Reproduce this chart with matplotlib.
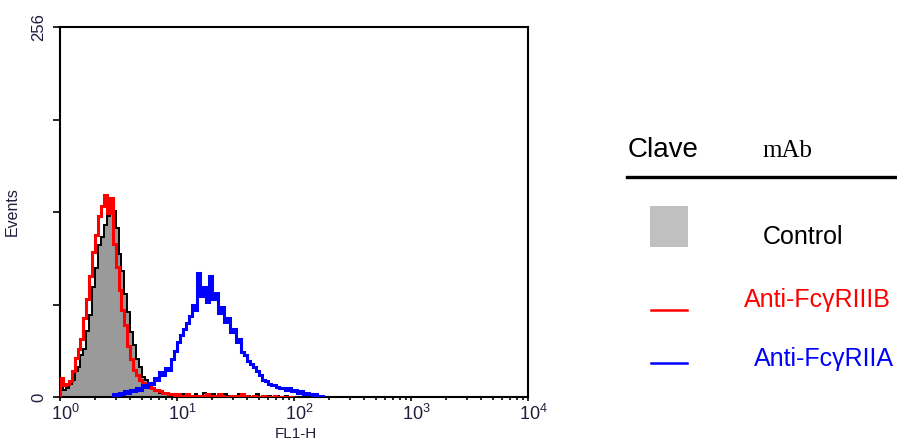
import numpy as np
import matplotlib
matplotlib.use("Agg")
import matplotlib.pyplot as plt
from matplotlib.patches import Rectangle
from matplotlib.lines import Line2D
import matplotlib.transforms as mtransforms

plt.rcParams['font.family'] = ['Liberation Sans', 'DejaVu Sans']
plt.rcParams['mathtext.fontset'] = 'custom'
plt.rcParams['mathtext.rm'] = 'Liberation Sans'

# histogramas FL1-H (canales en escala log, ancho de canal en decadas)
ancho = 0.025
inicio_control = 0.0
inicio_rojo = 0.0
inicio_azul = 0.45

control = [10, 5, 6, 9, 12, 18, 21, 29, 33, 46, 57, 76, 89, 105, 111, 119, 125, 136, 129, 117,
           99, 87, 71, 59, 45, 36, 26, 21, 14, 12, 8, 6, 5, 4, 3, 3, 2, 1, 2, 1,
           1, 0, 2, 1, 0, 1, 2, 0, 1, 3, 1, 0, 2, 1, 0, 1, 2, 1, 0, 1,
           0, 2, 1, 0, 1, 0, 1, 2, 0, 1, 0, 1, 0, 0, 1, 0, 0, 1, 0, 0]
anti_fcgriiib = [13, 8, 9, 11, 18, 27, 33, 40, 55, 68, 84, 100, 112, 125, 132, 140, 127, 138, 106, 90,
                 74, 60, 50, 35, 26, 19, 15, 12, 10, 8, 7, 6, 5, 5, 4, 3, 3, 2, 2, 1,
                 2, 1, 1, 2, 0, 1, 0, 1, 0, 1, 2, 1, 0, 1, 2, 1, 0, 0, 1, 0,
                 1, 0, 2, 1, 0, 0, 1, 0, 0, 1, 0, 0, 0, 1, 0, 0, 0, 0, 0, 0]
anti_fcgriia = [2, 1, 3, 2, 4, 3, 5, 4, 6, 5, 8, 7, 10, 9, 13, 12, 17, 15, 20, 19,
                26, 32, 38, 43, 47, 51, 56, 64, 60, 86, 70, 76, 66, 84, 68, 72, 58, 62, 52, 55,
                45, 47, 38, 40, 31, 29, 25, 23, 21, 18, 15, 12, 11, 9, 8, 8, 7, 6, 6, 5,
                6, 4, 5, 3, 4, 2, 3, 2, 1, 2, 1, 1]

xticks = [1, 10, 100, 1000, 10000]
xticklabels = ['$10^{0}$', '$10^{1}$', '$10^{2}$', '$10^{3}$', '$10^{4}$']


def bordes(inicio, n):
    return 10 ** (inicio + ancho * np.arange(n + 1))


W, H = 897, 443
fig = plt.figure(figsize=(W / 100, H / 100), dpi=100)
ax = fig.add_axes([60 / W, 1 - 397 / H, (528 - 60) / W, (397 - 27) / H])

texto = '#1e1e3c'

ax.stairs(control, bordes(inicio_control, len(control)), fill=True, color='#9a9a9a', lw=0, zorder=1)
ax.stairs(control, bordes(inicio_control, len(control)), color='black', lw=1.4, zorder=2)
ax.stairs(anti_fcgriiib, bordes(inicio_rojo, len(anti_fcgriiib)), color='#ff0000', lw=2.2, zorder=3)
ax.stairs(anti_fcgriia, bordes(inicio_azul, len(anti_fcgriia)), color='#0000ff', lw=2.2, zorder=4)

ax.set_xscale('log')
ax.set_xlim(1, 10000)
ax.set_ylim(0, 256)

ax.set_xticks(xticks)
ax.set_xticklabels(xticklabels, fontsize=13, color=texto)
ax.tick_params(axis='x', which='major', length=3, width=1.2, pad=2)
ax.tick_params(axis='x', which='minor', length=2.5, width=1.2)
desplaza = mtransforms.ScaledTranslation(5 / 100, 0, fig.dpi_scale_trans)
for lab in ax.get_xticklabels():
    lab.set_transform(lab.get_transform() + desplaza)

ax.set_yticks([0, 64, 128, 192, 256])
ax.set_yticklabels(['0', '', '', '', '256'], rotation=90, va='center', fontsize=12, color=texto)
ax.tick_params(axis='y', length=5, width=1.2, pad=5)

for s in ax.spines.values():
    s.set_linewidth(1.5)

ax.set_ylabel('Events', fontsize=11.5, color=texto)
ax.yaxis.set_label_coords(-0.085, 0.5)


def fx(x):
    return x / W


def fy(y):
    return 1 - y / H


fig.text(fx(296), fy(434), 'FL1-H', fontsize=11, color=texto, ha='center', va='center')

# leyenda
fig.text(fx(628), fy(157), 'Clave', fontsize=20, va='baseline', ha='left')
fig.text(fx(762), fy(157), 'mAb', fontsize=18, va='baseline', ha='left', family='Liberation Serif')
fig.add_artist(Line2D([fx(627), fx(897)], [fy(177), fy(177)], color='black', lw=2.4))
fig.add_artist(Rectangle((fx(650), fy(247)), fx(688) - fx(650), fy(206) - fy(247),
                         facecolor='#c0c0c0', edgecolor='none'))
fig.text(fx(763), fy(244), 'Control', fontsize=18, va='baseline', ha='left')
fig.add_artist(Line2D([fx(651), fx(687)], [fy(310), fy(310)], color='#ff0000', lw=1.8))
fig.text(fx(744), fy(307), 'Anti-Fc\u03b3RIIIB', fontsize=18, va='baseline', ha='left', color='#ff0000')
fig.add_artist(Line2D([fx(651), fx(687)], [fy(363), fy(363)], color='#0000ff', lw=1.8))
fig.text(fx(754), fy(366), 'Anti-Fc\u03b3RIIA', fontsize=18, va='baseline', ha='left', color='#0000ff')

fig.savefig('out.png', dpi=100)
